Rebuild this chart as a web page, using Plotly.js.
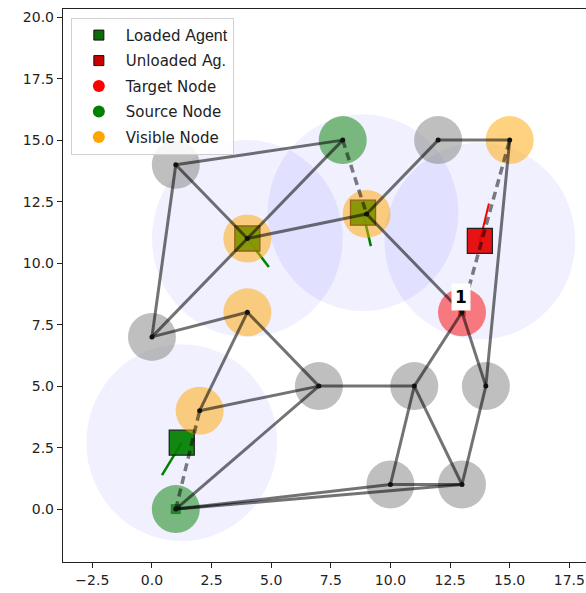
<!DOCTYPE html>
<html>
<head>
<meta charset="utf-8">
<script src="https://cdn.plot.ly/plotly-3.0.1.min.js"></script>
<style>html,body{margin:0;padding:0;background:#fff;}#chart{width:586px;height:593px;}</style>
</head>
<body>
<div id="chart"></div>
<script>
// ---- graph nodes ----
const nodeX = [1, 2, 0, 1, 4, 4, 7, 8, 9, 12, 15, 13, 11, 14, 10, 13];
const nodeY = [0, 4, 7, 14, 8, 11, 5, 15, 12, 15, 15, 8, 5, 5, 1, 1];
const nodeType = ['source','visible','plain','plain','visible','visible','plain','source',
                  'visible','plain','visible','target','plain','plain','plain','plain'];

// ---- graph edges (node indices) ----
const edgeFrom = [3, 3, 3, 2, 5, 5, 8, 8, 9, 10, 11, 11, 2, 4, 4, 1, 0, 6, 12, 12, 13, 0, 0, 14];
const edgeTo   = [7, 5, 2, 5, 7, 8, 9, 11, 10, 13, 12, 13, 4, 1, 6, 6, 6, 12, 14, 15, 15, 14, 15, 15];

// ---- agent planned paths (dashed, node indices) ----
const pathFrom = [7, 0, 11];
const pathTo   = [8, 1, 10];

// ---- agents ----
const agentX = [4, 8.85, 1.25, 13.75];
const agentY = [11, 12.05, 2.7, 10.9];
const agentLoaded = [true, true, true, false];
const headingX = [4.9, 9.18, 0.42, 14.13];
const headingY = [9.84, 10.69, 1.38, 12.42];
const visRadius = 4;

// ---- small markers at nodes ----
const depotX = [1, 13];
const depotY = [0, 8];
const depotColor = ['#0a5a0a', '#e0480a'];
const depotSize = [10, 8];

// ---- target label ----
const labelX = [13];
const labelY = [8];
const labelText = ['1'];

// ---- legend ----
const legendNames = ['Loaded <span style="font-family:Liberation Sans;font-size:16px">Agent</span>',
                     'Unloaded <span style="font-family:Liberation Sans;font-size:16px">Ag.</span>',
                     'Target Node', 'Source Node', 'Visible Node'];
const legendColors = ['#0b6b0b', '#c80000', '#ff0000', '#008000', '#ffa500'];
const legendSymbols = ['square', 'square', 'circle', 'circle', 'circle'];

const nodeColors = {
  plain: 'rgba(128,128,128,0.5)',
  visible: 'rgba(255,165,0,0.5)',
  source: 'rgba(0,128,0,0.5)',
  target: 'rgba(255,0,0,0.5)'
};

const traces = [];

// heading lines (under squares)
agentX.forEach((ax, i) => {
  traces.push({
    x: [ax, headingX[i]], y: [agentY[i], headingY[i]],
    mode: 'lines', showlegend: false, hoverinfo: 'skip',
    line: {color: agentLoaded[i] ? '#008000' : '#ff0000', width: agentLoaded[i] ? 2.5 : 2}
  });
});

// depot small squares
traces.push({
  x: depotX, y: depotY, mode: 'markers', showlegend: false, hoverinfo: 'skip',
  marker: {symbol: 'square', size: depotSize, color: depotColor, line: {width: 0}}
});

// agent squares
traces.push({
  x: agentX, y: agentY, mode: 'markers', showlegend: false, hoverinfo: 'skip',
  marker: {
    symbol: 'square', size: 25,
    color: agentLoaded.map(l => l ? '#008000' : '#e60000'),
    opacity: 0.92,
    line: {color: '#111', width: 1.3}
  }
});

// node circles
traces.push({
  x: nodeX, y: nodeY, mode: 'markers', showlegend: false, hoverinfo: 'skip',
  marker: {size: 48, color: nodeType.map(t => nodeColors[t]), line: {width: 0}}
});

// edges
const ex = [], ey = [];
edgeFrom.forEach((a, i) => {
  const b = edgeTo[i];
  ex.push(nodeX[a], nodeX[b], null);
  ey.push(nodeY[a], nodeY[b], null);
});
traces.push({
  x: ex, y: ey, mode: 'lines', showlegend: false, hoverinfo: 'skip',
  line: {color: 'rgba(0,0,0,0.55)', width: 3}
});

// dashed paths
const px = [], py = [];
pathFrom.forEach((a, i) => {
  const b = pathTo[i];
  px.push(nodeX[a], nodeX[b], null);
  py.push(nodeY[a], nodeY[b], null);
});
traces.push({
  x: px, y: py, mode: 'lines', showlegend: false, hoverinfo: 'skip',
  line: {color: 'rgba(0,0,0,0.5)', width: 3.5, dash: '8px,5px'}
});

// node center dots
traces.push({
  x: nodeX, y: nodeY, mode: 'markers', showlegend: false, hoverinfo: 'skip',
  marker: {size: 5, color: '#111'}
});

// legend entries
legendNames.forEach((n, i) => {
  traces.push({
    x: [null], y: [null], mode: 'markers', name: n, legendgroup: 'g' + i,
    marker: {symbol: legendSymbols[i], size: i < 2 ? 10 : 12, color: legendColors[i],
             line: {color: '#111', width: i < 2 ? 1 : 0}}
  });
});

const shapes = agentX.map((ax, i) => ({
  type: 'circle', xref: 'x', yref: 'y', layer: 'below',
  x0: ax - visRadius, x1: ax + visRadius,
  y0: agentY[i] - visRadius, y1: agentY[i] + visRadius,
  fillcolor: 'rgba(0,0,255,0.058)', line: {width: 0}
}));

const annotations = labelText.map((t, i) => ({
  x: labelX[i], y: labelY[i], xref: 'x', yref: 'y', text: '<b>' + t + '</b>',
  showarrow: false, xanchor: 'center', yanchor: 'bottom', yshift: 1, xshift: -1,
  bgcolor: '#ffffff', borderpad: 3,
  font: {family: 'DejaVu Sans', size: 17, color: '#000'}
}));

const axisFont = {family: 'DejaVu Sans', size: 14, color: '#222'};
const layout = {
  width: 586, height: 593,
  margin: {l: 63, r: 0, t: 9, b: 31},
  paper_bgcolor: '#fff', plot_bgcolor: '#fff',
  showlegend: true,
  legend: {
    x: 0.015, y: 0.984, xanchor: 'left', yanchor: 'top',
    bgcolor: 'rgba(255,255,255,0.85)', bordercolor: '#d0d0d0', borderwidth: 1,
    font: {family: 'DejaVu Sans', size: 15, color: '#222'},
    tracegroupgap: 3, itemwidth: 44, traceorder: 'grouped'
  },
  xaxis: {
    range: [-3.73, 18.2], tick0: 0, dtick: 2.5, tickformat: '.1f',
    showgrid: false, zeroline: false, showline: true, mirror: true,
    linecolor: '#222', linewidth: 1.2, ticks: 'outside', ticklen: 5, tickcolor: '#222',
    tickfont: axisFont
  },
  yaxis: {
    range: [-2.15, 20.33], tick0: 0, dtick: 2.5, tickformat: '.1f',
    showgrid: false, zeroline: false, showline: true,
    linecolor: '#222', linewidth: 1.2, ticks: 'outside', ticklen: 5, tickcolor: '#222',
    tickfont: axisFont
  },
  shapes: shapes,
  annotations: annotations
};

Plotly.newPlot('chart', traces, layout, {displayModeBar: false, staticPlot: true});
</script>
</body>
</html>
